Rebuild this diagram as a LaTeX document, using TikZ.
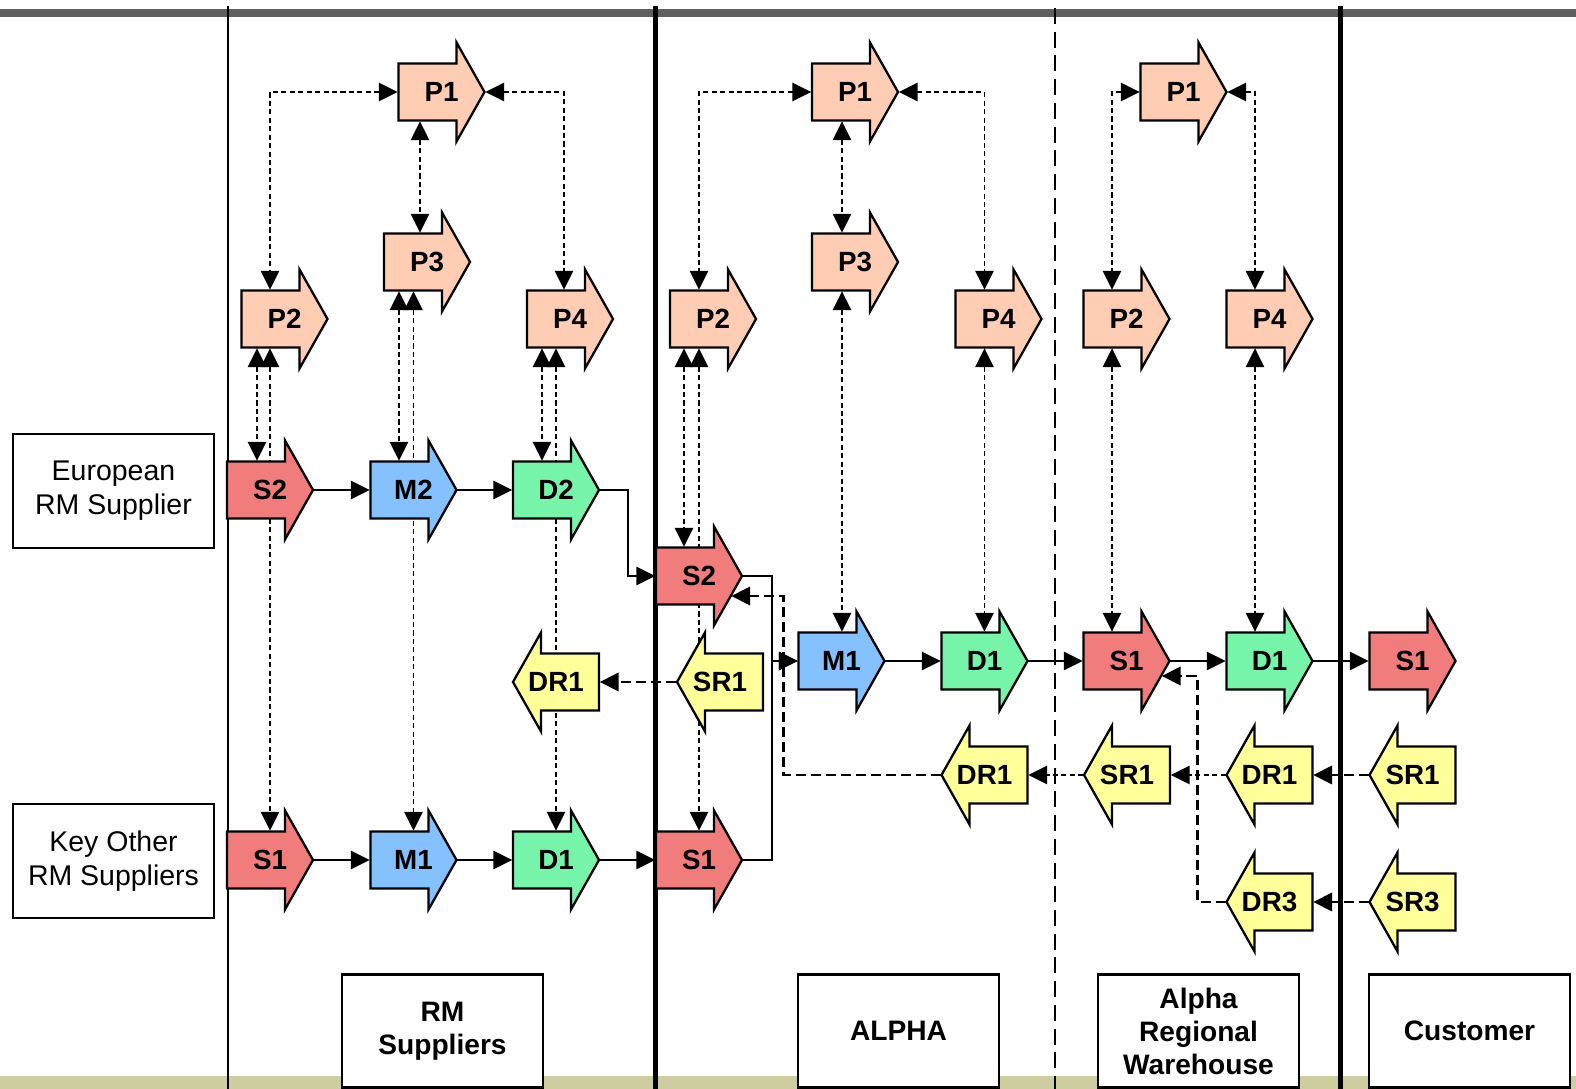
\documentclass[tikz,border=0pt]{standalone}
\usepackage{fontspec}
\setmainfont{Liberation Sans}
\usetikzlibrary{arrows.meta,calc}
\pgfdeclarelayer{lanes}
\pgfdeclarelayer{links}
\pgfsetlayers{lanes,links,main}

\definecolor{plancol}{RGB}{255,204,180}
\definecolor{sourcecol}{RGB}{240,124,124}
\definecolor{makecol}{RGB}{133,192,255}
\definecolor{delivcol}{RGB}{118,244,170}
\definecolor{returncol}{RGB}{255,255,153}
\definecolor{topbar}{RGB}{95,95,95}
\definecolor{footband}{RGB}{206,205,160}

\newcommand\tagfont{\fontsize{7.9pt}{9pt}\selectfont\bfseries}

% right-pointing process block: name, x, y, fill, text
\newcommand\rproc[5]{%
  \filldraw[blockline, fill=#4]
    ({#2-43},{#3-28.5}) -- ({#2+15},{#3-28.5}) -- ({#2+15},{#3-49.5})
    -- ({#2+43},{#3}) -- ({#2+15},{#3+49.5}) -- ({#2+15},{#3+28.5})
    -- ({#2-43},{#3+28.5}) -- cycle;
  \node[tag] (#1) at (#2,#3) {#5};}
% left-pointing return block: name, x, y, fill, text
\newcommand\lproc[5]{%
  \filldraw[blockline, fill=#4]
    ({#2+43},{#3-28.5}) -- ({#2-15},{#3-28.5}) -- ({#2-15},{#3-49.5})
    -- ({#2-43},{#3}) -- ({#2-15},{#3+49.5}) -- ({#2-15},{#3+28.5})
    -- ({#2+43},{#3+28.5}) -- cycle;
  \node[tag] (#1) at (#2,#3) {#5};}

\begin{document}
\begin{tikzpicture}[x=0.01cm, y=-0.01cm,
  blockline/.style={draw=black, line width=0.65pt, line join=miter},
  tag/.style={rectangle, inner sep=0pt, minimum width=0.86cm, minimum height=0.57cm, font=\tagfont},
  tri/.tip={Triangle[length=5.4pt, width=5.2pt]},
  flow/.style={line width=0.5pt, -tri},
  info/.style={line width=0.55pt, dash pattern=on 1.45pt off 0.95pt, tri-tri},
  ret/.style={line width=0.85pt, dash pattern=on 2.85pt off 1.42pt, -tri},
  retthin/.style={line width=0.55pt, dash pattern=on 1.45pt off 0.95pt, -tri},
  sidebox/.style={draw, line width=0.6pt, fill=white, minimum width=2.01cm, minimum height=1.14cm, align=center, inner sep=0pt, font=\fontsize{8.1pt}{9.7pt}\selectfont},
  footbox/.style={draw, line width=0.6pt, fill=white, minimum width=2.01cm, minimum height=1.13cm, align=center, inner sep=0pt, font=\fontsize{8pt}{9.4pt}\selectfont\bfseries},
  lanethin/.style={line width=0.6pt},
  lanethick/.style={line width=1.42pt},
  lanedash/.style={line width=0.55pt, dash pattern=on 4.55pt off 2.2pt}
]
\useasboundingbox (0,0) rectangle (1576,1089);

% page frame, top rule, footer band and lane separators
\begin{pgfonlayer}{lanes}
  \fill[white] (0,0) rectangle (1576,1089);
  \fill[topbar] (0,9) rectangle (1576,17);
  \fill[footband] (0,1076) rectangle (1576,1089);
  \draw[lanethin] (228,6) -- (228,1089);
  \draw[lanethick] (655,6) -- (655,1089);
  \draw[lanedash] (1055,8) -- (1055,1089);
  \draw[lanethick] (1340,6) -- (1340,1089);
\end{pgfonlayer}

% tier labels
\node[sidebox] (euro) at (113.5,491) {European\\RM Supplier};
\node[sidebox] (keyother) at (113.5,861) {Key Other\\RM Suppliers};
\node[footbox] (tierrm) at (442.5,1031) {RM\\Suppliers};
\node[footbox] (tieralpha) at (898.5,1031) {ALPHA};
\node[footbox] (tierwh) at (1198.5,1031) {Alpha\\Regional\\Warehouse};
\node[footbox] (tiercust) at (1469.5,1031) {Customer};

% RM suppliers
\rproc{rP1}{441.5}{92}{plancol}{P1}
\rproc{rP3}{427}{262}{plancol}{P3}
\rproc{rP2}{284.5}{319}{plancol}{P2}
\rproc{rP4}{570}{319}{plancol}{P4}
\rproc{rS2}{270}{490}{sourcecol}{S2}
\rproc{rM2}{413.5}{490}{makecol}{M2}
\rproc{rD2}{556}{490}{delivcol}{D2}
\lproc{rDR1}{556}{682}{returncol}{DR1}
\rproc{rS1}{270}{860}{sourcecol}{S1}
\rproc{rM1}{413.5}{860}{makecol}{M1}
\rproc{rD1}{556}{860}{delivcol}{D1}

% ALPHA
\rproc{aP1}{855}{92}{plancol}{P1}
\rproc{aP3}{855}{262}{plancol}{P3}
\rproc{aP2}{713}{319}{plancol}{P2}
\rproc{aP4}{998.5}{319}{plancol}{P4}
\rproc{aS2}{699}{576}{sourcecol}{S2}
\lproc{aSR1}{720}{682}{returncol}{SR1}
\rproc{aS1}{699}{860}{sourcecol}{S1}
\rproc{aM1}{841.5}{661}{makecol}{M1}
\rproc{aD1}{984.5}{661}{delivcol}{D1}
\lproc{aDR1}{984.5}{775}{returncol}{DR1}

% regional warehouse
\rproc{wP1}{1183.5}{92}{plancol}{P1}
\rproc{wP2}{1126.5}{319}{plancol}{P2}
\rproc{wP4}{1269.5}{319}{plancol}{P4}
\rproc{wS1}{1126.5}{661}{sourcecol}{S1}
\rproc{wD1}{1269.5}{661}{delivcol}{D1}
\lproc{wSR1}{1127}{775}{returncol}{SR1}
\lproc{wDR1}{1269.5}{775}{returncol}{DR1}
\lproc{wDR3}{1269.5}{902}{returncol}{DR3}

% customer
\rproc{cS1}{1412.5}{661}{sourcecol}{S1}
\lproc{cSR1}{1412.5}{775}{returncol}{SR1}
\lproc{cSR3}{1412.5}{902}{returncol}{SR3}

\begin{pgfonlayer}{links}
  % planning links, RM suppliers
  \draw[info] (rP1.west) -| ($(rP2.north)+(-14.5,0)$);
  \draw[info] (rP1.east) -| ($(rP4.north)+(-6,0)$);
  \draw[info] ($(rP1.south)+(-21.5,0)$) -- ($(rP3.north)+(-7,0)$);
  \draw[info] ($(rP2.south)+(-27.5,0)$) -- ($(rS2.north)+(-13,0)$);
  \draw[info] ($(rP2.south)+(-14.5,0)$) -- (rS1.north);
  \draw[info] ($(rP3.south)+(-28,0)$) -- ($(rM2.north)+(-14.5,0)$);
  \draw[info] ($(rP3.south)+(-13.5,0)$) -- (rM1.north);
  \draw[info] ($(rP4.south)+(-28,0)$) -- ($(rD2.north)+(-14,0)$);
  \draw[info] ($(rP4.south)+(-14,0)$) -- (rD1.north);
  % planning links, ALPHA
  \draw[info] (aP1.west) -| ($(aP2.north)+(-14,0)$);
  \draw[info] (aP1.east) -| ($(aP4.north)+(-14,0)$);
  \draw[info] ($(aP1.south)+(-13,0)$) -- ($(aP3.north)+(-13,0)$);
  \draw[info] ($(aP2.south)+(-29,0)$) -- ($(aS2.north)+(-15,0)$);
  \draw[info] ($(aP2.south)+(-14,0)$) -- (aS1.north);
  \draw[info] ($(aP3.south)+(-13,0)$) -- ($(aM1.north)+(0.5,0)$);
  \draw[info] ($(aP4.south)+(-14,0)$) -- (aD1.north);
  % planning links, warehouse
  \draw[info] (wP1.west) -| ($(wP2.north)+(-14.5,0)$);
  \draw[info] (wP1.east) -| ($(wP4.north)+(-14.5,0)$);
  \draw[info] ($(wP2.south)+(-14.5,0)$) -- ($(wS1.north)+(-14.5,0)$);
  \draw[info] ($(wP4.south)+(-14.5,0)$) -- ($(wD1.north)+(-14.5,0)$);

  % material flow
  \draw[flow] (rS2.east) -- (rM2.west);
  \draw[flow] (rM2.east) -- (rD2.west);
  \draw[flow] (rD2.east) -- ++(28,0) |- (aS2.west);
  \draw[flow] (rS1.east) -- (rM1.west);
  \draw[flow] (rM1.east) -- (rD1.west);
  \draw[flow] (rD1.east) -- (aS1.west);
  \draw[flow] (aS2.east) -- ++(29,0) |- (aM1.west);
  \draw[flow] (aS1.east) -- ++(29,0) |- (aM1.west);
  \draw[flow] (aM1.east) -- (aD1.west);
  \draw[flow] (aD1.east) -- (wS1.west);
  \draw[flow] (wS1.east) -- (wD1.west);
  \draw[flow] (wD1.east) -- (cS1.west);

  % return flow
  \draw[ret] (aSR1.west) -- (rDR1.east);
  \draw[ret] (aDR1.west) -- ++(-157,0) |- ($(aS2.east)+(-11.5,20)$);
  \draw[retthin] (wSR1.west) -- (aDR1.east);
  \draw[retthin] (wDR1.west) -- (wSR1.east);
  \draw[ret] (cSR1.west) -- (wDR1.east);
  \draw[ret] (cSR3.west) -- (wDR3.east);
  \draw[ret] (wDR3.west) -- ++(-28,0) |- ($(wS1.east)+(-8.5,15)$);
\end{pgfonlayer}
\end{tikzpicture}
\end{document}
